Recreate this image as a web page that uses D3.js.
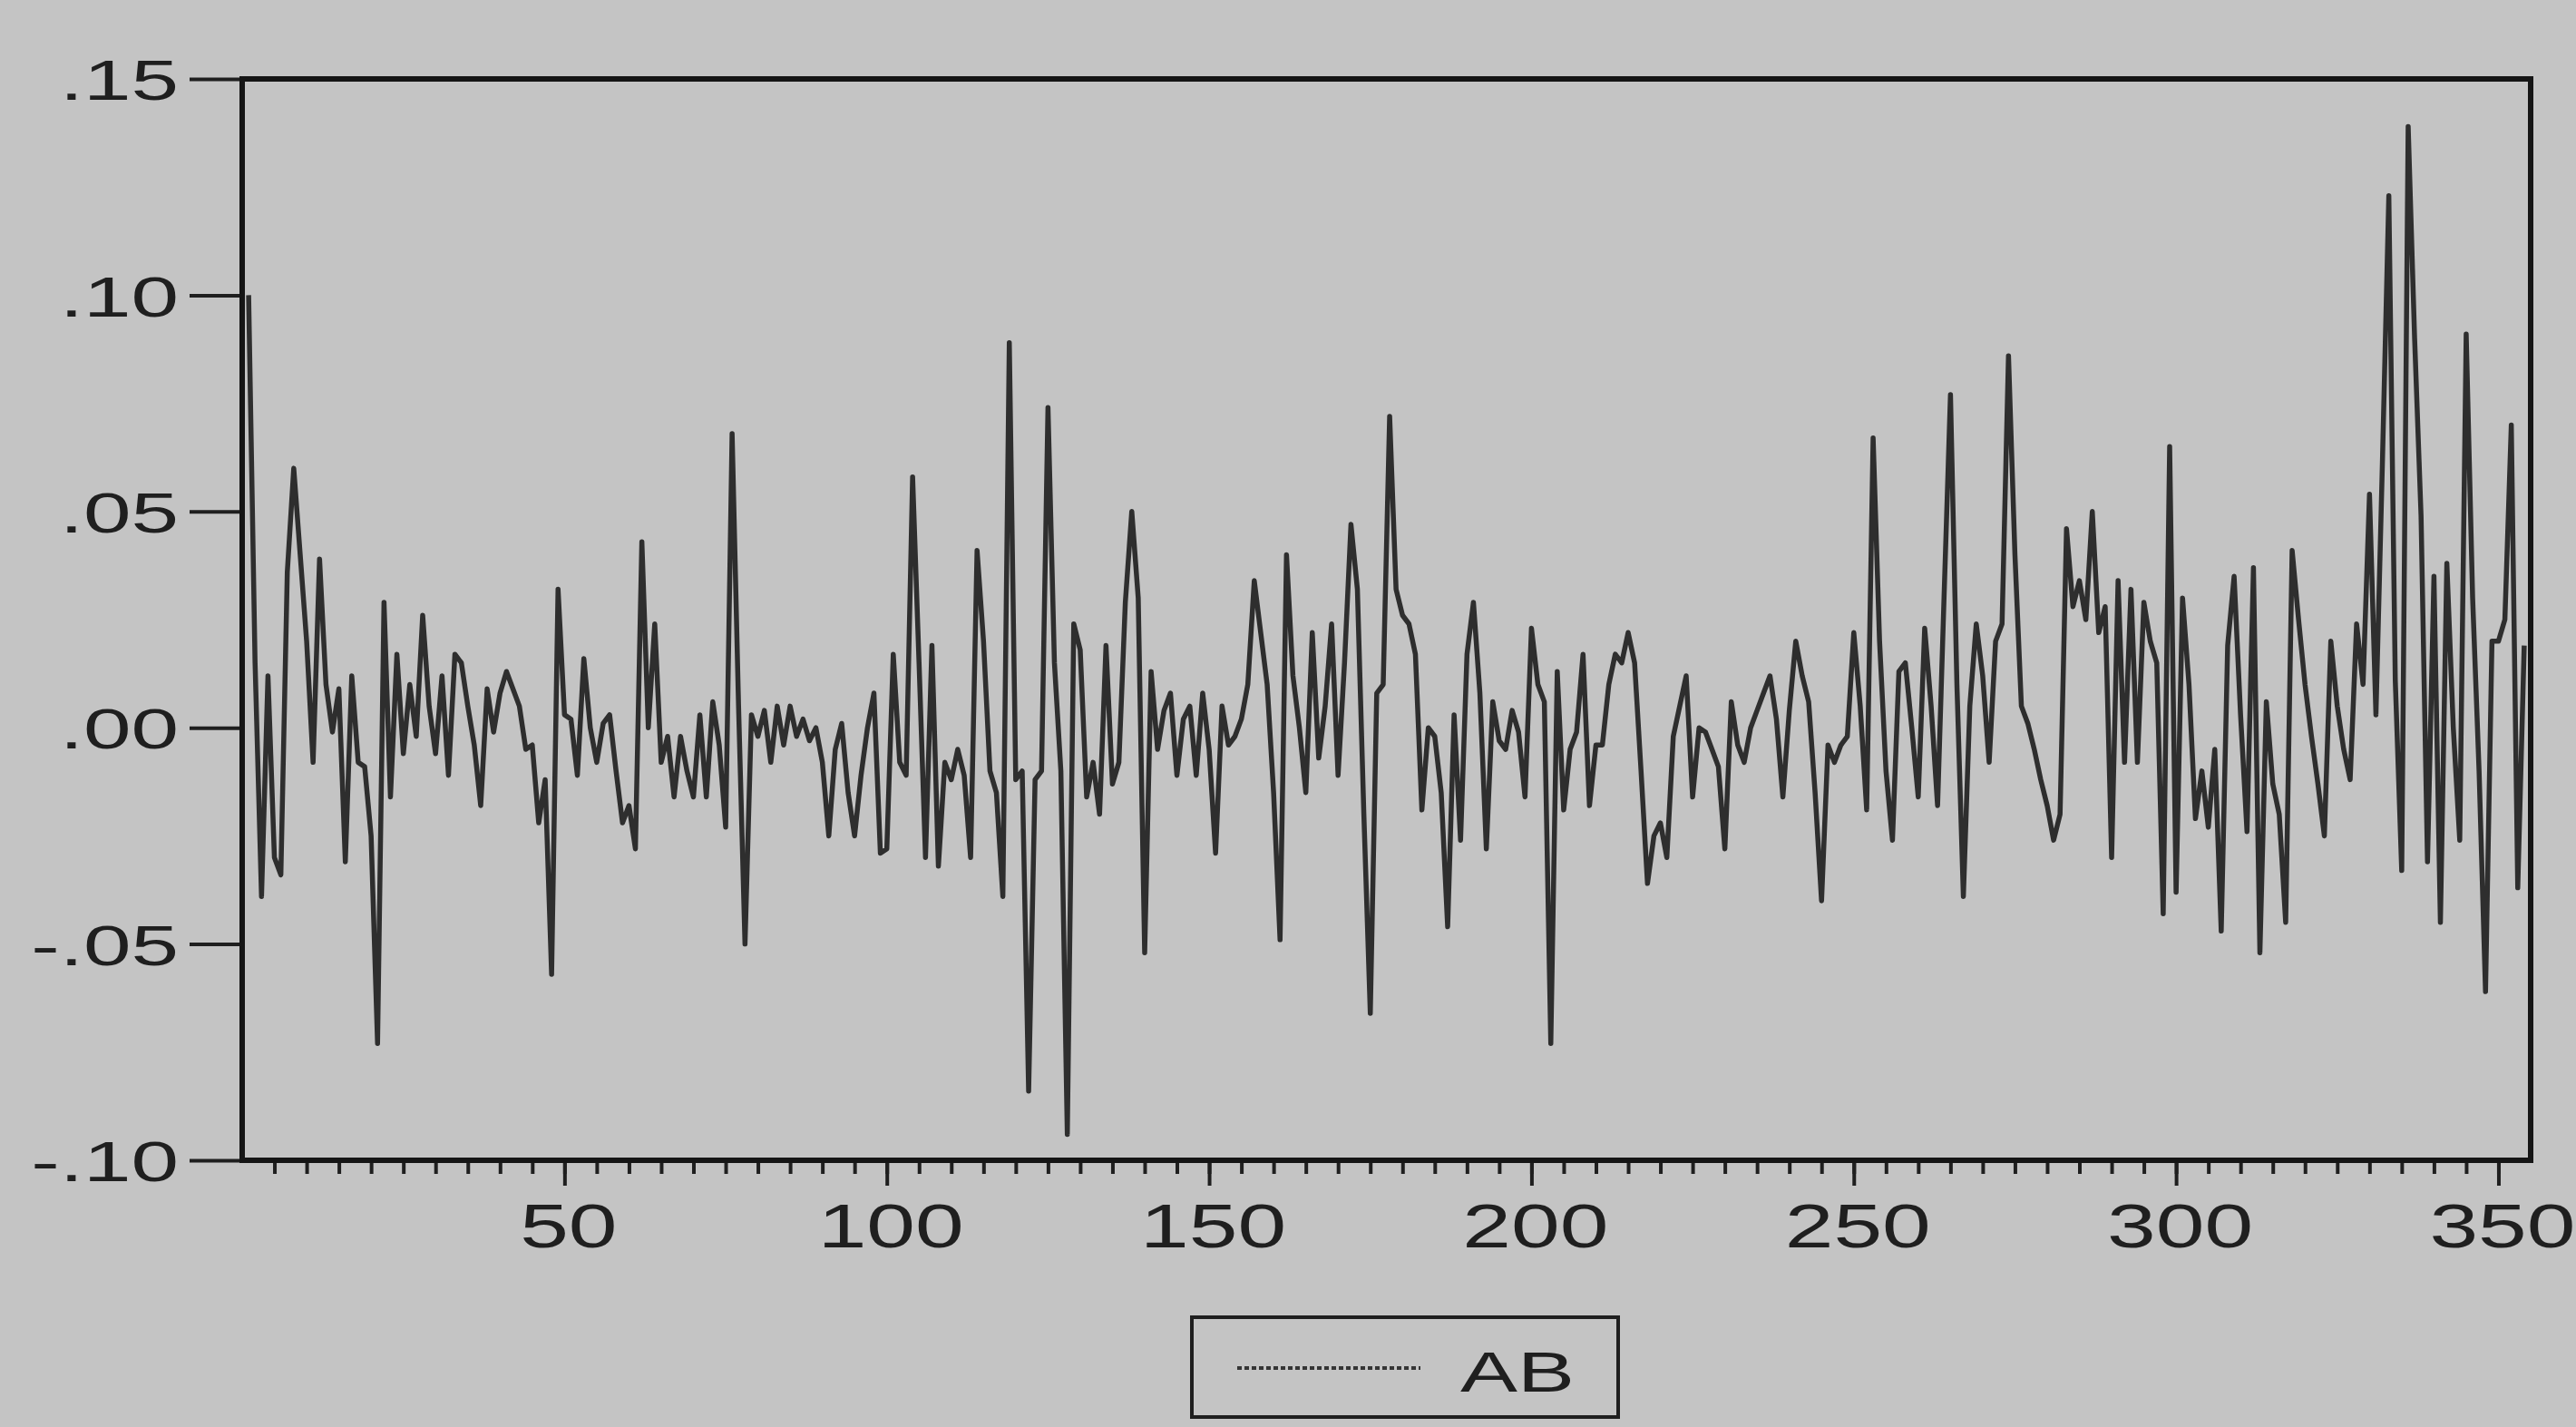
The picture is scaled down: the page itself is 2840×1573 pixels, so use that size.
<!DOCTYPE html>
<html>
<head>
<meta charset="utf-8">
<script src="https://d3js.org/d3.v7.min.js"></script>
<style>
  body { margin: 0; background: #c4c4c4; }
  svg { display: block; }
  text { font-family: "Liberation Sans", Arial, sans-serif; fill: #1f1f1f; }
</style>
</head>
<body>
<div id="chart"></div>
<script>
const values = [
   0.100,  0.015, -0.039,  0.012, -0.030, -0.034,  0.036,  0.060,  0.040,  0.020,
  -0.008,  0.039,  0.010, -0.001,  0.009, -0.031,  0.012, -0.008, -0.009, -0.025,
  -0.073,  0.029, -0.016,  0.017, -0.006,  0.010, -0.002,  0.026,  0.005, -0.006,
   0.012, -0.011,  0.017,  0.015,  0.005, -0.004, -0.018,  0.009, -0.001,  0.008,
   0.013,  0.009,  0.005, -0.005, -0.004, -0.022, -0.012, -0.057,  0.032,  0.003,
   0.002, -0.011,  0.016,  0.000, -0.008,  0.001,  0.003, -0.010, -0.022, -0.018,
  -0.028,  0.043,  0.000,  0.024, -0.008, -0.002, -0.016, -0.002, -0.010, -0.016,
   0.003, -0.016,  0.006, -0.004, -0.023,  0.068,  0.005, -0.050,  0.003, -0.002,
   0.004, -0.008,  0.005, -0.004,  0.005, -0.002,  0.002, -0.003,  0.000, -0.008,
  -0.025, -0.005,  0.001, -0.015, -0.025, -0.011,  0.000,  0.008, -0.029, -0.028,
   0.017, -0.008, -0.011,  0.058,  0.015, -0.030,  0.019, -0.032, -0.008, -0.012,
  -0.005, -0.011, -0.030,  0.041,  0.020, -0.010, -0.015, -0.039,  0.089, -0.012,
  -0.010, -0.084, -0.012, -0.010,  0.074,  0.015, -0.010, -0.094,  0.024,  0.018,
  -0.016, -0.008, -0.020,  0.019, -0.013, -0.008,  0.029,  0.050,  0.030, -0.052,
   0.013, -0.005,  0.004,  0.008, -0.011,  0.002,  0.005, -0.011,  0.008, -0.005,
  -0.029,  0.005, -0.004, -0.002,  0.002,  0.010,  0.034,  0.022,  0.010, -0.015,
  -0.049,  0.040,  0.012,  0.000, -0.015,  0.022, -0.007,  0.005,  0.024, -0.011,
   0.015,  0.047,  0.032, -0.020, -0.066,  0.008,  0.010,  0.072,  0.032,  0.026,
   0.024,  0.017, -0.019,  0.000, -0.002, -0.015, -0.046,  0.003, -0.026,  0.017,
   0.029,  0.008, -0.028,  0.006, -0.003, -0.005,  0.004, -0.001, -0.016,  0.023,
   0.010,  0.006, -0.073,  0.013, -0.019, -0.005, -0.001,  0.017, -0.018, -0.004,
  -0.004,  0.010,  0.017,  0.015,  0.022,  0.015, -0.010, -0.036, -0.025, -0.022,
  -0.030, -0.002,  0.005,  0.012, -0.016,  0.000, -0.001, -0.005, -0.009, -0.028,
   0.006, -0.004, -0.008,  0.000,  0.004,  0.008,  0.012,  0.002, -0.016,  0.004,
   0.020,  0.012,  0.006, -0.015, -0.040, -0.004, -0.008, -0.004, -0.002,  0.022,
   0.005, -0.019,  0.067,  0.020, -0.010, -0.026,  0.013,  0.015,  0.000, -0.016,
   0.023,  0.005, -0.018,  0.030,  0.077,  0.010, -0.039,  0.005,  0.024,  0.012,
  -0.008,  0.020,  0.024,  0.086,  0.040,  0.005,  0.001, -0.005, -0.012, -0.018,
  -0.026, -0.020,  0.046,  0.028,  0.034,  0.025,  0.050,  0.022,  0.028, -0.030,
   0.034, -0.008,  0.032, -0.008,  0.029,  0.020,  0.015, -0.043,  0.065, -0.038,
   0.030,  0.010, -0.021, -0.010, -0.023, -0.005, -0.047,  0.019,  0.035,  0.003,
  -0.024,  0.037, -0.052,  0.006, -0.013, -0.020, -0.045,  0.041,  0.025,  0.010,
  -0.002, -0.013, -0.025,  0.020,  0.005, -0.005, -0.012,  0.024,  0.010,  0.054,
   0.003,  0.061,  0.123,  0.011, -0.033,  0.139,  0.090,  0.049, -0.031,  0.035,
  -0.045,  0.038,  0.000, -0.026,  0.091,  0.030, -0.010, -0.061,  0.020,  0.020,
   0.025,  0.070, -0.037,  0.019
];
const obs = values.map((d, i) => i + 1);

const xTicks = [50, 100, 150, 200, 250, 300, 350];
const xMinorTicks = d3.range(5, 355, 5);
const yTicks = [-0.10, -0.05, 0.00, 0.05, 0.10, 0.15];
const yTickLabels = ["-.10", "-.05", ".00", ".05", ".10", ".15"];
const seriesName = "AB";

const width = 2840;
const height = 1573;

const svg = d3.select("#chart")
    .append("svg")
    .attr("width", width)
    .attr("height", height);

svg.append("rect")
    .attr("width", width)
    .attr("height", height)
    .attr("fill", "#c4c4c4");

const x = d3.scaleLinear().domain([0, 355]).range([267, 2790]);
const y = d3.scaleLinear().domain([-0.10, 0.15]).range([1279, 87]);

// y axis (left, major ticks only)
const yAxis = svg.append("g")
    .attr("transform", `translate(${x(0)},0)`)
    .call(d3.axisLeft(y)
        .tickValues(yTicks)
        .tickSize(58)
        .tickFormat((d, i) => yTickLabels[i]));
yAxis.select(".domain").remove();
yAxis.selectAll("line").attr("stroke", "#1f1f1f").attr("stroke-width", 4);
yAxis.selectAll("text")
    .attr("x", 0)
    .attr("dy", "0.36em")
    .attr("transform", "translate(-70,0) scale(1.5,1)")
    .style("font-size", "63px")
    .style("fill", "#1f1f1f");

// x axis minor ticks
const xMinor = svg.append("g")
    .attr("transform", `translate(0,${y(-0.10)})`)
    .call(d3.axisBottom(x).tickValues(xMinorTicks).tickSize(15).tickFormat(""));
xMinor.select(".domain").remove();
xMinor.selectAll("line").attr("stroke", "#1f1f1f").attr("stroke-width", 4);

// x axis major ticks + labels
const xAxis = svg.append("g")
    .attr("transform", `translate(0,${y(-0.10)})`)
    .call(d3.axisBottom(x).tickValues(xTicks).tickSize(28).tickFormat(d3.format("d")));
xAxis.select(".domain").remove();
xAxis.selectAll("line").attr("stroke", "#1f1f1f").attr("stroke-width", 4);
xAxis.selectAll("text")
    .attr("y", 0)
    .attr("dy", 0)
    .attr("transform", "translate(4,96) scale(1.42,1)")
    .style("font-size", "68px")
    .style("fill", "#1f1f1f");

// the series
const line = d3.line()
    .x((d, i) => x(obs[i]))
    .y(d => y(d));

svg.append("path")
    .datum(values)
    .attr("fill", "none")
    .attr("stroke", "#2e2e2e")
    .attr("stroke-width", 5.5)
    .attr("stroke-linejoin", "round")
    .attr("d", line);

// plot frame
svg.append("rect")
    .attr("x", x(0))
    .attr("y", y(0.15))
    .attr("width", x(355) - x(0))
    .attr("height", y(-0.10) - y(0.15))
    .attr("fill", "none")
    .attr("stroke", "#151515")
    .attr("stroke-width", 6);

// legend
const legend = svg.append("g");
legend.append("rect")
    .attr("x", 1314)
    .attr("y", 1452)
    .attr("width", 470)
    .attr("height", 110)
    .attr("fill", "none")
    .attr("stroke", "#1f1f1f")
    .attr("stroke-width", 4);
legend.append("line")
    .attr("x1", 1364)
    .attr("x2", 1566)
    .attr("y1", 1508)
    .attr("y2", 1508)
    .attr("stroke", "#353535")
    .attr("stroke-width", 4)
    .attr("stroke-dasharray", "5,3");
legend.append("text")
    .attr("transform", "translate(1610,1534) scale(1.5,1)")
    .style("font-size", "63px")
    .text(seriesName);
</script>
</body>
</html>
